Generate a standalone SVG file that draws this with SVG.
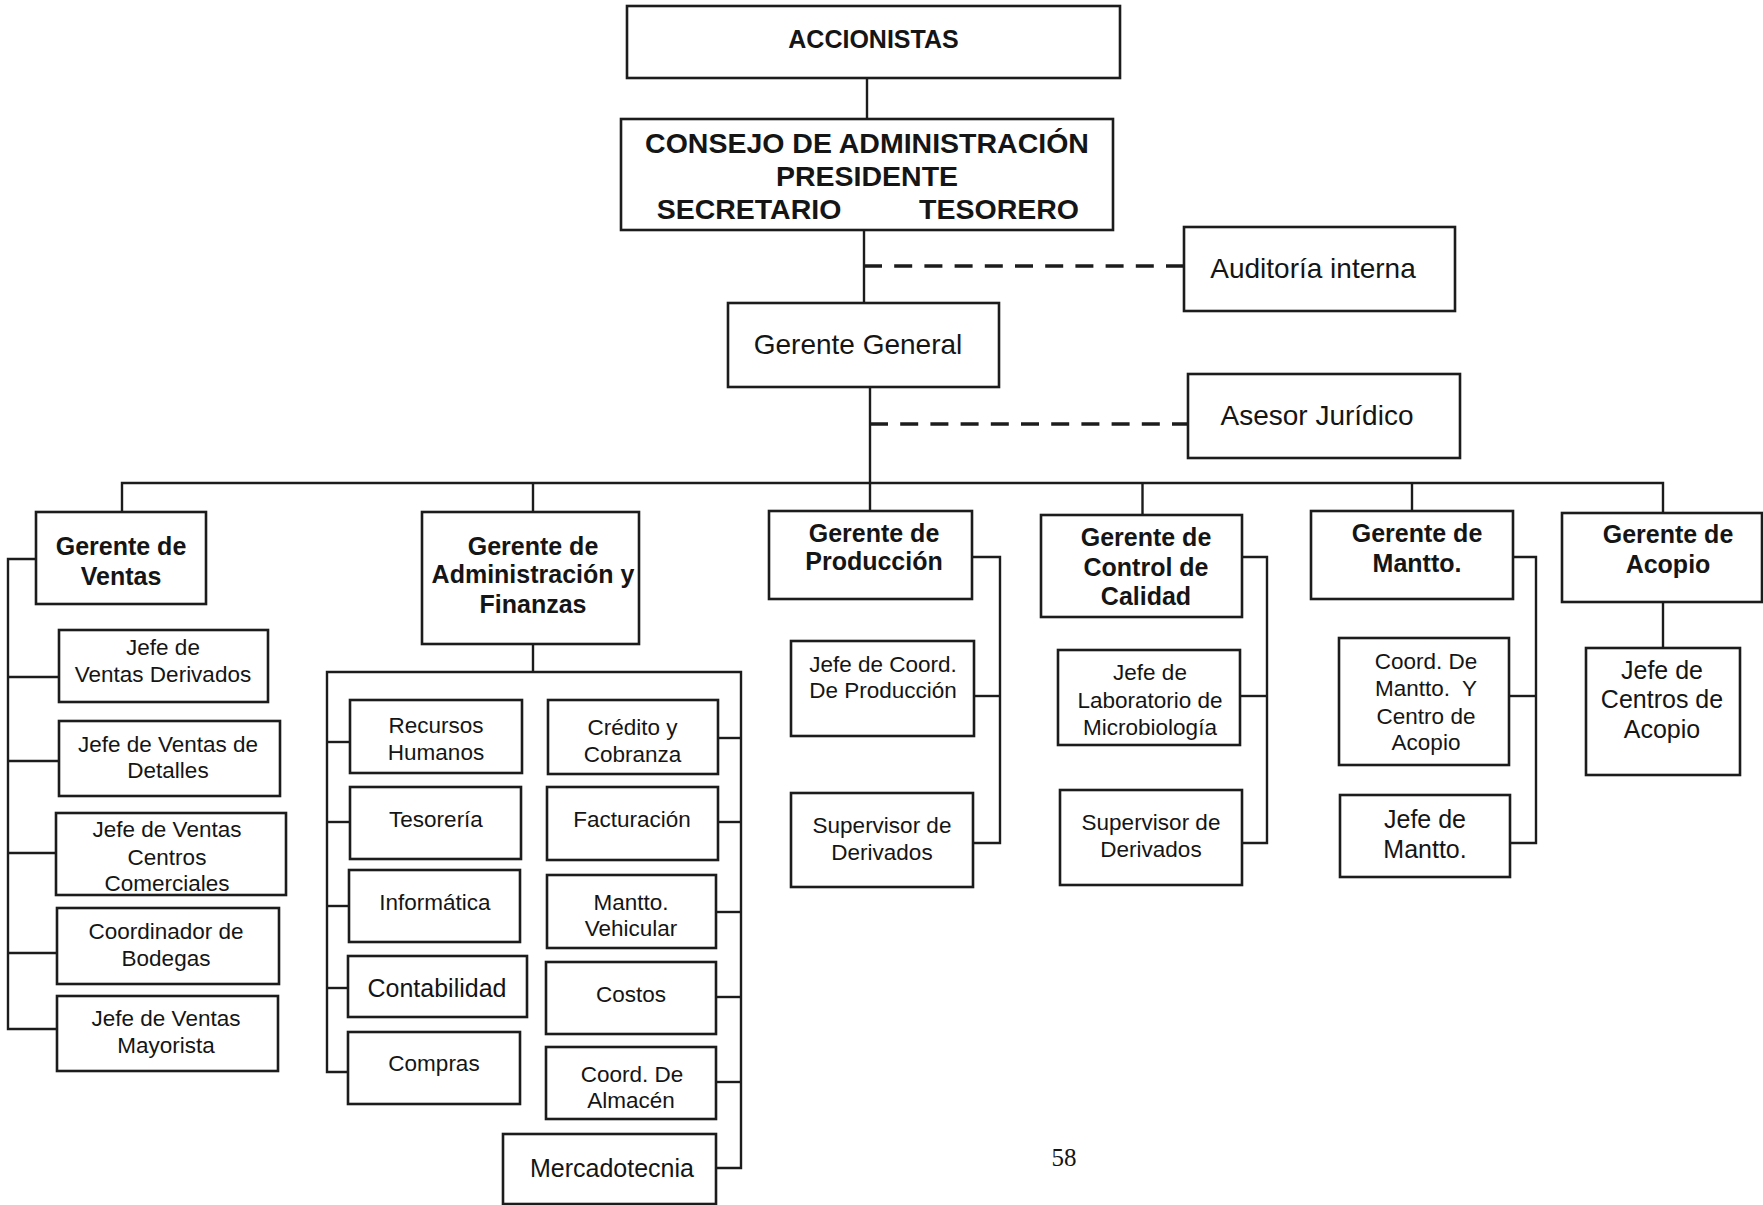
<svg xmlns="http://www.w3.org/2000/svg" width="1763" height="1205" viewBox="0 0 1763 1205">
  <style>
    .box { fill: #ffffff; stroke: #1c1c1c; stroke-width: 2.6; }
    .ln { fill: none; stroke: #1c1c1c; stroke-width: 2.4; }
    .dash { fill: none; stroke: #1c1c1c; stroke-width: 3.6; stroke-dasharray: 18 12.2; }
    text { font-family: "Liberation Sans", Arial, sans-serif; fill: #151515; text-anchor: middle; }
    .t-top { font-size: 28.5px; font-weight: bold; }
    .t-acc { font-size: 25px; font-weight: bold; }
    .t-mid { font-size: 28px; }
    .t-head { font-size: 25px; font-weight: bold; }
    .t-sub { font-size: 22.5px; }
    .t-big { font-size: 25px; }
    .t-page { font-family: "Liberation Serif", "Times New Roman", serif; font-size: 25px; }
  </style>

  <rect width="1763" height="1205" fill="#ffffff"/>

  <!-- connectors -->
  <g id="connectors">
    <line class="ln" x1="867" y1="78" x2="867" y2="119"/>
    <line class="ln" x1="864" y1="230" x2="864" y2="303"/>
    <line class="ln" x1="870" y1="387" x2="870" y2="511"/>
    <line class="dash" x1="864" y1="266" x2="1184" y2="266"/>
    <line class="dash" x1="870" y1="424" x2="1188" y2="424"/>

    <!-- main bus -->
    <polyline class="ln" points="122,512 122,483 1663,483 1663,513"/>
    <line class="ln" x1="533" y1="483" x2="533" y2="512"/>
    <line class="ln" x1="1142.5" y1="483" x2="1142.5" y2="515"/>
    <line class="ln" x1="1412" y1="483" x2="1412" y2="511"/>

    <!-- ventas -->
    <polyline class="ln" points="36,559 8,559 8,1029 57,1029"/>
    <line class="ln" x1="8" y1="677" x2="59" y2="677"/>
    <line class="ln" x1="8" y1="761" x2="59" y2="761"/>
    <line class="ln" x1="8" y1="853" x2="56" y2="853"/>
    <line class="ln" x1="8" y1="953" x2="57" y2="953"/>

    <!-- administracion y finanzas -->
    <line class="ln" x1="533" y1="644" x2="533" y2="672"/>
    <polyline class="ln" points="348,1072 327,1072 327,672 741,672 741,1168 716,1168"/>
    <line class="ln" x1="327" y1="742" x2="350" y2="742"/>
    <line class="ln" x1="327" y1="822" x2="350" y2="822"/>
    <line class="ln" x1="327" y1="906" x2="349" y2="906"/>
    <line class="ln" x1="327" y1="988" x2="348" y2="988"/>
    <line class="ln" x1="718" y1="738" x2="741" y2="738"/>
    <line class="ln" x1="718" y1="822" x2="741" y2="822"/>
    <line class="ln" x1="716" y1="912" x2="741" y2="912"/>
    <line class="ln" x1="716" y1="997" x2="741" y2="997"/>
    <line class="ln" x1="716" y1="1082" x2="741" y2="1082"/>

    <!-- produccion -->
    <polyline class="ln" points="972,557 1000,557 1000,843 973,843"/>
    <line class="ln" x1="974" y1="696" x2="1000" y2="696"/>

    <!-- control de calidad -->
    <polyline class="ln" points="1242,557 1267,557 1267,843 1242,843"/>
    <line class="ln" x1="1240" y1="696" x2="1267" y2="696"/>

    <!-- mantenimiento -->
    <polyline class="ln" points="1513,557 1536,557 1536,843 1510,843"/>
    <line class="ln" x1="1509" y1="696" x2="1536" y2="696"/>

    <!-- acopio -->
    <line class="ln" x1="1663" y1="602" x2="1663" y2="648"/>
  </g>

  <!-- top levels -->
  <g id="accionistas">
    <rect class="box" x="627" y="6" width="493" height="72"/>
    <text class="t-acc" x="873.5" y="48">ACCIONISTAS</text>
  </g>
  <g id="consejo">
    <rect class="box" x="621" y="119" width="492" height="111"/>
    <text class="t-top" x="867" y="153">CONSEJO DE ADMINISTRACIÓN</text>
    <text class="t-top" x="867" y="186">PRESIDENTE</text>
    <text class="t-top" y="219"><tspan x="749">SECRETARIO</tspan><tspan x="999">TESORERO</tspan></text>
  </g>
  <g id="gerente-general">
    <rect class="box" x="728" y="303" width="271" height="84"/>
    <text class="t-mid" x="858" y="354">Gerente General</text>
  </g>
  <g id="auditoria">
    <rect class="box" x="1184" y="227" width="271" height="84"/>
    <text class="t-mid" x="1313" y="278">Auditoría interna</text>
  </g>
  <g id="asesor">
    <rect class="box" x="1188" y="374" width="272" height="84"/>
    <text class="t-mid" x="1317" y="425">Asesor Jurídico</text>
  </g>

  <!-- ventas -->
  <g id="gerente-ventas">
    <rect class="box" x="36" y="512" width="170" height="92"/>
    <text class="t-head" x="121" y="555">Gerente de</text>
    <text class="t-head" x="121" y="585">Ventas</text>
  </g>
  <g id="jefe-ventas-derivados">
    <rect class="box" x="59" y="630" width="209" height="72"/>
    <text class="t-sub" x="163" y="655">Jefe de</text>
    <text class="t-sub" x="163" y="682">Ventas Derivados</text>
  </g>
  <g id="jefe-ventas-detalles">
    <rect class="box" x="59" y="721" width="221" height="75"/>
    <text class="t-sub" x="168" y="752">Jefe de Ventas de</text>
    <text class="t-sub" x="168" y="778">Detalles</text>
  </g>
  <g id="jefe-ventas-centros">
    <rect class="box" x="56" y="813" width="230" height="82"/>
    <text class="t-sub" x="167" y="837">Jefe de Ventas</text>
    <text class="t-sub" x="167" y="865">Centros</text>
    <text class="t-sub" x="167" y="891">Comerciales</text>
  </g>
  <g id="coordinador-bodegas">
    <rect class="box" x="57" y="908" width="222" height="76"/>
    <text class="t-sub" x="166" y="939">Coordinador de</text>
    <text class="t-sub" x="166" y="966">Bodegas</text>
  </g>
  <g id="jefe-ventas-mayorista">
    <rect class="box" x="57" y="996" width="221" height="75"/>
    <text class="t-sub" x="166" y="1026">Jefe de Ventas</text>
    <text class="t-sub" x="166" y="1053">Mayorista</text>
  </g>

  <!-- administracion y finanzas -->
  <g id="gerente-admin">
    <rect class="box" x="422" y="512" width="217" height="132"/>
    <text class="t-head" x="533" y="555">Gerente de</text>
    <text class="t-head" x="533" y="583">Administración y</text>
    <text class="t-head" x="533" y="613">Finanzas</text>
  </g>
  <g id="recursos-humanos">
    <rect class="box" x="350" y="700" width="172" height="73"/>
    <text class="t-sub" x="436" y="733">Recursos</text>
    <text class="t-sub" x="436" y="760">Humanos</text>
  </g>
  <g id="tesoreria">
    <rect class="box" x="350" y="787" width="171" height="72"/>
    <text class="t-sub" x="436" y="827">Tesorería</text>
  </g>
  <g id="informatica">
    <rect class="box" x="349" y="870" width="171" height="72"/>
    <text class="t-sub" x="435" y="910">Informática</text>
  </g>
  <g id="contabilidad">
    <rect class="box" x="348" y="956" width="179" height="61"/>
    <text class="t-big" x="437" y="997">Contabilidad</text>
  </g>
  <g id="compras">
    <rect class="box" x="348" y="1032" width="172" height="72"/>
    <text class="t-sub" x="434" y="1071">Compras</text>
  </g>
  <g id="credito-cobranza">
    <rect class="box" x="548" y="700" width="170" height="74"/>
    <text class="t-sub" x="632.5" y="735">Crédito y</text>
    <text class="t-sub" x="632.5" y="762">Cobranza</text>
  </g>
  <g id="facturacion">
    <rect class="box" x="547" y="787" width="171" height="73"/>
    <text class="t-sub" x="632" y="827">Facturación</text>
  </g>
  <g id="mantto-vehicular">
    <rect class="box" x="547" y="875" width="169" height="73"/>
    <text class="t-sub" x="631" y="910">Mantto.</text>
    <text class="t-sub" x="631" y="936">Vehicular</text>
  </g>
  <g id="costos">
    <rect class="box" x="546" y="962" width="170" height="72"/>
    <text class="t-sub" x="631" y="1002">Costos</text>
  </g>
  <g id="coord-almacen">
    <rect class="box" x="546" y="1047" width="170" height="72"/>
    <text class="t-sub" x="632" y="1082">Coord. De</text>
    <text class="t-sub" x="631" y="1108">Almacén</text>
  </g>
  <g id="mercadotecnia">
    <rect class="box" x="503" y="1134" width="213" height="70"/>
    <text class="t-big" x="612" y="1177">Mercadotecnia</text>
  </g>

  <!-- produccion -->
  <g id="gerente-produccion">
    <rect class="box" x="769" y="511" width="203" height="88"/>
    <text class="t-head" x="874" y="542">Gerente de</text>
    <text class="t-head" x="874" y="570">Producción</text>
  </g>
  <g id="jefe-coord-produccion">
    <rect class="box" x="791" y="641" width="183" height="95"/>
    <text class="t-sub" x="883" y="672">Jefe de Coord.</text>
    <text class="t-sub" x="883" y="698">De Producción</text>
  </g>
  <g id="supervisor-derivados-prod">
    <rect class="box" x="791" y="793" width="182" height="94"/>
    <text class="t-sub" x="882" y="833">Supervisor de</text>
    <text class="t-sub" x="882" y="860">Derivados</text>
  </g>

  <!-- control de calidad -->
  <g id="gerente-calidad">
    <rect class="box" x="1041" y="515" width="201" height="102"/>
    <text class="t-head" x="1146" y="546">Gerente de</text>
    <text class="t-head" x="1146" y="576">Control de</text>
    <text class="t-head" x="1146" y="605">Calidad</text>
  </g>
  <g id="jefe-laboratorio">
    <rect class="box" x="1058" y="650" width="182" height="95"/>
    <text class="t-sub" x="1150" y="680">Jefe de</text>
    <text class="t-sub" x="1150" y="708">Laboratorio de</text>
    <text class="t-sub" x="1150" y="735">Microbiología</text>
  </g>
  <g id="supervisor-derivados-cal">
    <rect class="box" x="1060" y="790" width="182" height="95"/>
    <text class="t-sub" x="1151" y="830">Supervisor de</text>
    <text class="t-sub" x="1151" y="857">Derivados</text>
  </g>

  <!-- mantenimiento -->
  <g id="gerente-mantto">
    <rect class="box" x="1311" y="511" width="202" height="88"/>
    <text class="t-head" x="1417" y="542">Gerente de</text>
    <text class="t-head" x="1417" y="572">Mantto.</text>
  </g>
  <g id="coord-mantto-acopio">
    <rect class="box" x="1339" y="638" width="170" height="127"/>
    <text class="t-sub" x="1426" y="669">Coord. De</text>
    <text class="t-sub" x="1426" y="696" xml:space="preserve">Mantto.  Y</text>
    <text class="t-sub" x="1426" y="724">Centro de</text>
    <text class="t-sub" x="1426" y="750">Acopio</text>
  </g>
  <g id="jefe-mantto">
    <rect class="box" x="1340" y="795" width="170" height="82"/>
    <text class="t-big" x="1425" y="828">Jefe de</text>
    <text class="t-big" x="1425" y="858">Mantto.</text>
  </g>

  <!-- acopio -->
  <g id="gerente-acopio">
    <rect class="box" x="1562" y="513" width="200" height="89"/>
    <text class="t-head" x="1668" y="543">Gerente de</text>
    <text class="t-head" x="1668" y="573">Acopio</text>
  </g>
  <g id="jefe-centros-acopio">
    <rect class="box" x="1586" y="648" width="154" height="127"/>
    <text class="t-big" x="1662" y="679">Jefe de</text>
    <text class="t-big" x="1662" y="708">Centros de</text>
    <text class="t-big" x="1662" y="738">Acopio</text>
  </g>

  <!-- page number -->
  <text class="t-page" x="1064" y="1166">58</text>
</svg>
